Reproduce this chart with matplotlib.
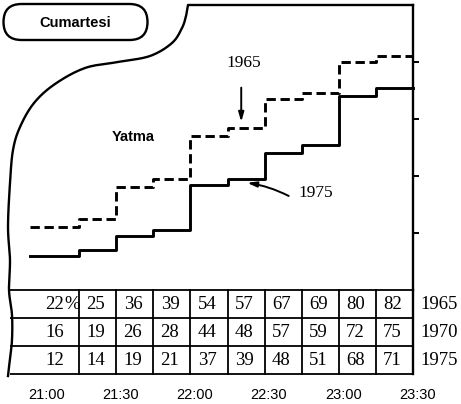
import numpy as np
import matplotlib
matplotlib.use("Agg")
import matplotlib.pyplot as plt
import matplotlib.transforms as mtransforms
from matplotlib.patches import FancyBboxPatch
from matplotlib.lines import Line2D

# ---------------- data ----------------
times = ["21:00", "21:30", "22:00", "22:30", "23:00", "23:30"]
years = ["1965", "1970", "1975"]
v1965 = [22, 25, 36, 39, 54, 57, 67, 69, 80, 82]
v1970 = [16, 19, 26, 28, 44, 48, 57, 59, 72, 75]
v1975 = [12, 14, 19, 21, 37, 39, 48, 51, 68, 71]
yticks = [20, 40, 60, 80]
title_box = "Cumartesi"
area_label = "Yatma"

SERIF = ["Liberation Serif", "DejaVu Serif"]
SANS = ["Liberation Sans", "DejaVu Sans"]

W, H = 461, 404
fig = plt.figure(figsize=(W / 100, H / 100), dpi=100)
fig.patch.set_facecolor("white")
# transform for decorative elements given in image pixel coordinates (y down)
T = mtransforms.Affine2D().scale(1 / W, -1 / H).translate(0, 1) + fig.transFigure

# main axes: x = 15-min intervals (0..10), y = percent (0..100)
ax = fig.add_axes([42 / W, 1 - 290 / H, 371 / W, 285 / H])
ax.set_xlim(0, 10)
ax.set_ylim(0, 100)
ax.patch.set_visible(False)
for s in ["left", "top", "bottom"]:
    ax.spines[s].set_visible(False)
ax.spines["right"].set_linewidth(1.7)
ax.yaxis.tick_right()
ax.set_yticks(yticks)
ax.set_yticklabels([])
ax.tick_params(axis="y", direction="out", length=4, width=1.4, right=True, left=False)
ax.set_xticks([])

# step lines
n = len(v1965)
edges = np.arange(n + 1, dtype=float)
edges[0] = -0.32
ax.step(edges, v1965 + [v1965[-1]], where="post", color="black", lw=2.1,
        dashes=(3.2, 1.6), clip_on=False)
ax.step(edges, v1975 + [v1975[-1]], where="post", color="black", lw=2.1,
        clip_on=False)

# annotations
ax.text(5.45, 79.6, "1965", ha="center", va="center", fontsize=12.5,
        family=SERIF)
ax.annotate("", xy=(5.37, 59.0), xytext=(5.37, 71.0),
            arrowprops=dict(arrowstyle="-|>,head_length=0.55,head_width=0.16",
                            lw=1.4, color="black", shrinkA=0, shrinkB=0))
ax.text(7.38, 34.0, "1975", ha="center", va="center", fontsize=12.5,
        family=SERIF)
ax.annotate("", xy=(5.53, 37.6), xytext=(6.65, 33.0),
            arrowprops=dict(arrowstyle="-|>,head_length=0.55,head_width=0.16",
                            lw=1.4, color="black", shrinkA=0, shrinkB=0,
                            connectionstyle="arc3,rad=0.08"))
ax.text(2.45, 53.7, area_label, ha="center", va="center", fontsize=10.5,
        family=SANS, weight="bold")

# table below the chart
rh = 9.82
rows = [v1965, v1970, v1975]
left_x = -0.86
for k in range(4):
    ax.plot([left_x, 10], [-k * rh, -k * rh], color="black", lw=1.3,
            clip_on=False, solid_capstyle="butt")
for c in range(1, n):
    ax.plot([c, c], [0, -3 * rh], color="black", lw=1.3, clip_on=False)
ax.plot([10, 10], [0, -3 * rh], color="black", lw=1.7, clip_on=False)

for r, vals in enumerate(rows):
    yc = -(r + 0.5) * rh - 0.3
    for c, v in enumerate(vals):
        if c == 0:
            ax.text(0.6, yc, str(v), ha="right", va="center", fontsize=13.5,
                    family=SERIF, clip_on=False)
            if r == 0:
                ax.text(0.6, yc, "%", ha="left", va="center", fontsize=13.5,
                        family=SERIF, clip_on=False)
        else:
            ax.text(c + 0.45, yc, str(v), ha="center", va="center",
                    fontsize=13.5, family=SERIF, clip_on=False)
    ax.text(10.19, yc, years[r], ha="left", va="center", fontsize=13.5,
            family=SERIF, clip_on=False)

for i, t in enumerate(times):
    ax.text(2 * i + 0.12, -36.8, t, ha="center", va="center", fontsize=10.5,
            family=SANS, clip_on=False)

# ---------------- decorative frame (wavy left border) ----------------
def catmull_rom(pts, per=12):
    pts = np.asarray(pts, float)
    p = np.vstack([pts[0], pts, pts[-1]])
    out = []
    for i in range(1, len(p) - 2):
        p0, p1, p2, p3 = p[i - 1], p[i], p[i + 1], p[i + 2]
        for t in np.linspace(0, 1, per, endpoint=False):
            t2, t3 = t * t, t * t * t
            out.append(0.5 * ((2 * p1) + (-p0 + p2) * t +
                              (2 * p0 - 5 * p1 + 4 * p2 - p3) * t2 +
                              (-p0 + 3 * p1 - 3 * p2 + p3) * t3))
    out.append(pts[-1])
    return np.array(out)

curve = catmull_rom([(188, 5), (186, 16), (182, 28), (172, 43), (150, 56),
                     (118, 62), (85, 68), (55, 84), (34, 103), (20, 127),
                     (13, 150), (10, 183), (8, 227), (10, 260), (9, 290),
                     (12, 315), (12, 340), (10, 358), (8, 376)])
border_x = np.r_[413, curve[:, 0]]
border_y = np.r_[5, curve[:, 1]]
fig.add_artist(Line2D(border_x, border_y, transform=T, color="black", lw=1.7,
                      solid_joinstyle="round"))

# "Cumartesi" rounded box
box = FancyBboxPatch((3.5, 4), 144, 36, boxstyle="round,pad=0,rounding_size=18",
                     transform=T, facecolor="white", edgecolor="black", lw=1.7)
fig.add_artist(box)
fig.text(75 / W, 1 - 23 / H, title_box, ha="center", va="center",
         fontsize=10.5, family=SANS, weight="bold")

fig.savefig("out.png", dpi=100, facecolor="white")
